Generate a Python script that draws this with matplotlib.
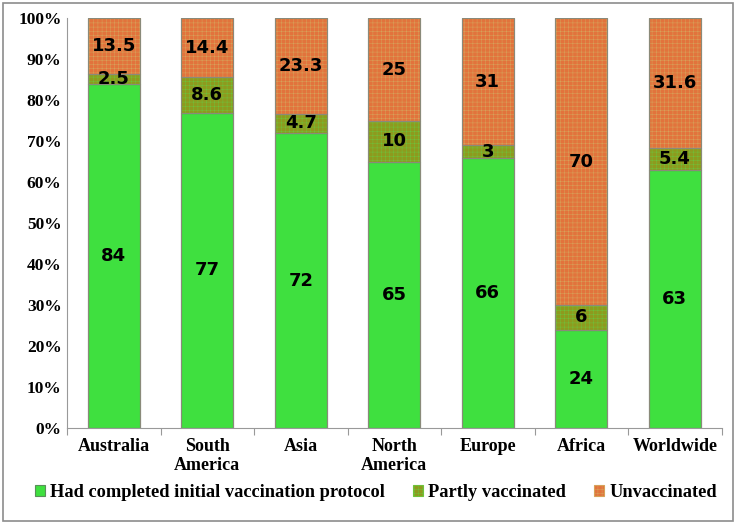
import numpy as np
import matplotlib.pyplot as plt
from matplotlib.patches import Rectangle

regions = ["Australia", "South\nAmerica", "Asia", "North\nAmerica", "Europe", "Africa", "Worldwide"]
completed = [84, 77, 72, 65, 66, 24, 63]
partly = [2.5, 8.6, 4.7, 10, 3, 6, 5.4]
unvacc = [13.5, 14.4, 23.3, 25, 31, 70, 31.6]
series_names = ["Had completed initial vaccination protocol", "Partly vaccinated", "Unvaccinated"]

plt.rcParams['hatch.linewidth'] = 0.35
serif = ['Liberation Serif', 'DejaVu Serif']

fig = plt.figure(figsize=(7.37, 5.24), dpi=100)
ax = fig.add_axes([0.091, 0.183, 0.888, 0.782])

x = np.arange(len(regions))
w = 0.56
green = '#3fe03f'
olive = '#8e9a1e'
orange = '#e2733c'

b1 = ax.bar(x, completed, w, color=green, edgecolor='#5a8f5a', linewidth=0.8,
            label=series_names[0])
b2 = ax.bar(x, partly, w, bottom=completed, color=olive, linewidth=0.8,
            hatch='++++', label=series_names[1])
bot3 = [c + p for c, p in zip(completed, partly)]
b3 = ax.bar(x, unvacc, w, bottom=bot3, color=orange, linewidth=0.8,
            hatch='++++', label=series_names[2])
for r in b2:
    r.set_edgecolor('#6fc23a')
for r in b3:
    r.set_edgecolor('#d6a25a')
# gray outline drawn separately so hatch keeps its own colour
for bars in (b1, b2, b3):
    for r in bars:
        ax.add_patch(Rectangle(r.get_xy(), r.get_width(), r.get_height(), fill=False,
                               edgecolor='#8a8a7a', linewidth=0.8))

for i in range(len(regions)):
    ax.text(x[i], completed[i] / 2, f"{completed[i]:g}", ha='center', va='center',
            fontsize=13, fontweight='heavy', color='black')
    ax.text(x[i], completed[i] + partly[i] / 2, f"{partly[i]:g}", ha='center', va='center',
            fontsize=13, fontweight='heavy', color='black')
    ax.text(x[i], bot3[i] + unvacc[i] / 2, f"{unvacc[i]:g}", ha='center', va='center',
            fontsize=13, fontweight='heavy', color='black')

ax.set_xlim(-0.5, len(regions) - 0.5)
ax.set_ylim(0, 100)
ax.set_yticks(np.arange(0, 101, 10))
ax.set_yticklabels([f"{v}%" for v in range(0, 101, 10)], family=serif, fontweight='bold', fontsize=12.5)
ax.set_xticks(np.arange(-0.5, len(regions), 1), minor=False)
ax.set_xticklabels([])
ax.set_xticks(x, minor=True)
ax.set_xticklabels(regions, minor=True, family=serif, fontweight='bold', fontsize=13, linespacing=1.2)
ax.tick_params(axis='x', which='minor', length=0, pad=7)
ax.tick_params(axis='x', which='major', length=5, color='#999999')
ax.tick_params(axis='y', length=0, pad=4)
for s in ['top', 'right']:
    ax.spines[s].set_visible(False)
for s in ['left', 'bottom']:
    ax.spines[s].set_color('#999999')

leg = fig.legend(handles=[b1, b2, b3], labels=series_names, loc='lower center',
                 bbox_to_anchor=(0.51, 0.012), ncol=3, frameon=False,
                 prop={'family': serif, 'weight': 'bold', 'size': 13.2},
                 handlelength=0.55, handleheight=0.55, handletextpad=0.3, columnspacing=1.5)

fig.patches.append(Rectangle((0.004, 0.006), 0.99, 0.988, transform=fig.transFigure,
                             fill=False, edgecolor='#8c8c8c', linewidth=1.2))

fig.savefig('out.png', dpi=100)
